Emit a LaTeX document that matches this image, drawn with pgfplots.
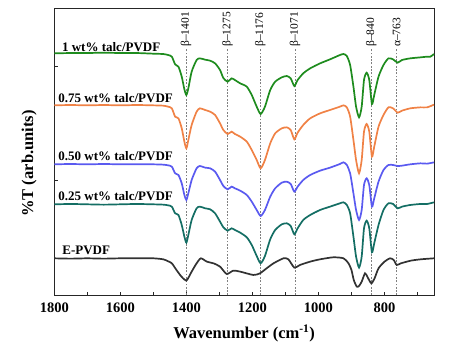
\documentclass[border=0pt]{standalone}
\usepackage{pgfplots}
\pgfplotsset{compat=1.18}
\usepackage{fontspec}
\setmainfont{Liberation Serif}
\definecolor{cgreen}{RGB}{30,140,30}
\definecolor{corange}{RGB}{240,130,70}
\definecolor{cblue}{RGB}{90,90,240}
\definecolor{cteal}{RGB}{20,110,100}
\definecolor{cblack}{RGB}{50,50,50}
\begin{document}
\begin{tikzpicture}
\begin{axis}[
  scale only axis, width=379.7pt, height=286.6pt,
  x dir=reverse, xmin=650, xmax=1800, ymin=0, ymax=860,
  xtick={800,1000,...,1800}, minor xtick={700,900,...,1700},
  ytick={346,688}, yticklabels={},
  tick align=inside, major tick length=3.5pt, minor tick length=3.5pt,
  xtick pos=bottom, ytick pos=left,
  axis line style={line width=0.9pt, black!85},
  tick style={line width=0.8pt, black!85},
  /pgf/number format/assume math mode=true,
  /pgf/number format/1000 sep={},
  xticklabel style={font=\fontsize{14.5}{14.5}\selectfont\bfseries, yshift=-4pt},
  xlabel={Wavenumber (cm\textsuperscript{-1})},
  ylabel={\%T (arb.units)},
  xlabel style={font=\fontsize{16.5}{16.5}\selectfont\bfseries, at={(axis description cs:0.5,-0.132)}, anchor=center},
  ylabel style={font=\fontsize{16.5}{16.5}\selectfont\bfseries, at={(axis description cs:-0.066,0.46)}, anchor=center},
  every axis plot/.append style={line width=1.7pt, smooth, tension=0.4},
  clip=false,
]
% reference lines
\foreach \w in {1401,1275,1176,1071,840,763}{
  \edef\tmp{\noexpand\draw[gray, line width=0.5pt, dash pattern=on 1.8pt off 1.5pt] (axis cs:\w,0) -- (axis cs:\w,738);}
  \tmp
}
\foreach \w/\t in {1401/β–1401,1275/β–1275,1176/β–1176,1071/β–1071,840/β–840,763/α–763}{
  \edef\tmp{\noexpand\node[rotate=90, anchor=west, inner sep=1pt, font=\noexpand\fontsize{11.5}{11.5}\noexpand\selectfont] at (axis cs:\w,742) {\t};}
  \tmp
}
% 1 wt%
\addplot[cgreen] coordinates {(1800,726)(1750,727)(1700,727)(1650,728)(1600,727)(1550,727)(1500,725)(1470,724)(1455,721)(1444,716)(1434,693)(1424,686)(1414,656)(1406,618)(1400,601)(1394,621)(1384,671)(1369,706)(1359,711)(1343,707)(1328,704)(1313,696)(1298,676)(1288,652)(1275,641)(1263,651)(1253,646)(1237,636)(1217,626)(1202,601)(1187,566)(1175,544)(1162,566)(1146,616)(1131,641)(1111,654)(1096,658)(1084,651)(1073,628)(1063,646)(1046,666)(1025,681)(995,696)(965,708)(935,721)(924,724)(914,718)(904,691)(894,626)(886,566)(877,534)(869,566)(862,646)(854,668)(846,646)(838,574)(831,601)(818,656)(803,691)(788,711)(774,708)(760,698)(747,706)(722,711)(691,714)(671,716)(661,716)(650,724)};
% 0.75 wt%
\addplot[corange] coordinates {(1800,570)(1750,571)(1700,570)(1650,571)(1600,570)(1550,571)(1500,570)(1470,569)(1455,566)(1444,561)(1434,536)(1424,531)(1414,501)(1406,461)(1400,441)(1394,466)(1384,511)(1369,551)(1359,561)(1343,556)(1328,551)(1313,541)(1298,516)(1288,496)(1275,484)(1263,491)(1253,484)(1237,476)(1217,461)(1202,436)(1187,406)(1175,381)(1162,406)(1146,456)(1131,486)(1111,501)(1096,504)(1084,496)(1073,468)(1063,488)(1046,511)(1025,531)(995,546)(965,556)(935,566)(924,570)(914,564)(904,536)(894,466)(886,406)(877,366)(869,406)(862,491)(854,514)(846,491)(838,416)(831,446)(818,506)(803,541)(788,564)(774,561)(760,548)(747,554)(722,561)(691,564)(671,564)(650,572)};
% 0.50 wt%
\addplot[cblue] coordinates {(1800,393)(1750,394)(1700,393)(1650,394)(1600,393)(1550,393)(1500,393)(1470,392)(1455,390)(1444,386)(1434,366)(1424,361)(1414,336)(1406,301)(1400,286)(1394,306)(1384,346)(1369,381)(1359,388)(1343,383)(1328,381)(1313,371)(1298,346)(1288,328)(1275,318)(1263,326)(1253,321)(1237,314)(1217,301)(1202,281)(1187,256)(1175,238)(1162,256)(1146,296)(1131,321)(1111,338)(1096,341)(1084,334)(1073,311)(1063,326)(1046,346)(1025,361)(995,374)(965,383)(935,394)(924,399)(914,391)(904,366)(894,306)(886,256)(877,226)(869,256)(862,331)(854,351)(846,331)(838,266)(831,291)(818,341)(803,376)(788,391)(774,391)(760,388)(747,389)(722,393)(691,396)(671,395)(650,399)};
% 0.25 wt%
\addplot[cteal] coordinates {(1800,273)(1750,274)(1700,273)(1650,272)(1600,273)(1550,274)(1500,273)(1470,272)(1455,270)(1444,266)(1434,246)(1424,241)(1414,211)(1406,176)(1400,158)(1394,181)(1384,226)(1369,261)(1359,266)(1343,261)(1328,258)(1313,246)(1298,221)(1288,204)(1275,194)(1263,201)(1253,196)(1237,188)(1217,174)(1202,151)(1187,118)(1175,96)(1162,118)(1146,168)(1131,196)(1111,213)(1096,216)(1084,208)(1073,183)(1063,201)(1046,226)(1025,241)(995,256)(965,266)(935,276)(924,279)(914,271)(904,246)(894,176)(886,116)(877,83)(869,116)(862,201)(854,224)(846,201)(838,129)(831,156)(818,211)(803,256)(788,276)(774,274)(760,261)(747,266)(722,271)(691,274)(671,274)(650,279)};
% E-PVDF
\addplot[cblack] coordinates {(1800,111)(1750,110)(1700,111)(1650,110)(1600,111)(1550,111)(1500,111)(1470,108)(1455,102)(1444,96)(1430,76)(1419,61)(1410,51)(1400,44)(1392,56)(1384,71)(1369,96)(1356,111)(1338,101)(1318,96)(1298,86)(1278,64)(1258,74)(1237,71)(1197,61)(1177,66)(1157,81)(1136,96)(1106,111)(1091,108)(1073,83)(1056,91)(1025,101)(995,108)(955,114)(924,111)(909,96)(900,76)(893,46)(884,26)(877,28)(869,41)(859,66)(852,56)(840,36)(830,51)(818,81)(800,101)(783,111)(772,106)(763,91)(750,96)(720,104)(690,108)(650,111)};
% labels
\node[anchor=base west, font=\fontsize{13}{13}\selectfont\bfseries, inner sep=0pt] at (axis cs:1777,733) {1 wt\% talc/PVDF};
\node[anchor=base west, font=\fontsize{13}{13}\selectfont\bfseries, inner sep=0pt] at (axis cs:1788,579) {0.75 wt\% talc/PVDF};
\node[anchor=base west, font=\fontsize{13}{13}\selectfont\bfseries, inner sep=0pt] at (axis cs:1788,404) {0.50 wt\% talc/PVDF};
\node[anchor=base west, font=\fontsize{13}{13}\selectfont\bfseries, inner sep=0pt] at (axis cs:1788,283) {0.25 wt\% talc/PVDF};
\node[anchor=base west, font=\fontsize{13}{13}\selectfont\bfseries, inner sep=0pt] at (axis cs:1776,121) {E-PVDF};
\end{axis}
\path ([xshift=-54.3pt,yshift=-52.7pt]current axis.south west) rectangle ([xshift=16pt,yshift=8.7pt]current axis.north east);
\end{tikzpicture}
\end{document}
